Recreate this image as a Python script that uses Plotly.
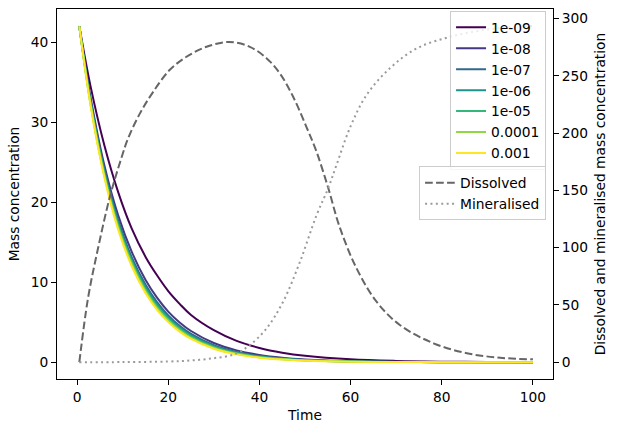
import plotly.graph_objects as go

# ---- data ----
time_mass = [0.5, 3, 6, 9, 12, 15, 17.5, 20, 22.5, 25, 30, 35, 40, 45, 50, 60, 70, 80, 90, 100]
series_names = ["1e-09", "1e-08", "1e-07", "1e-06", "1e-05", "0.0001", "0.001"]
mass_1e09 = [42, 34.4, 27.1, 21.3, 16.7, 13.2, 10.9, 8.9, 7.3, 5.9, 4.0, 2.66, 1.78, 1.19, 0.80, 0.36, 0.16, 0.07, 0.03, 0.01]
mass_1e08 = [42, 33.0, 24.6, 18.4, 13.8, 10.3, 8.1, 6.33, 4.97, 3.90, 2.40, 1.48, 0.91, 0.56, 0.35, 0.13, 0.05, 0.02, 0.01, 0.0]
mass_1e07 = [42, 32.6, 24.1, 17.8, 13.1, 9.71, 7.54, 5.86, 4.55, 3.54, 2.13, 1.29, 0.78, 0.47, 0.28, 0.10, 0.04, 0.01, 0.0, 0.0]
mass_1e06 = [42, 32.5, 23.8, 17.5, 12.8, 9.43, 7.29, 5.64, 4.36, 3.37, 2.01, 1.20, 0.72, 0.43, 0.26, 0.09, 0.03, 0.01, 0.0, 0.0]
mass_1e05 = [42, 32.3, 23.6, 17.2, 12.6, 9.16, 7.04, 5.42, 4.17, 3.21, 1.90, 1.12, 0.66, 0.39, 0.23, 0.08, 0.03, 0.01, 0.0, 0.0]
mass_1e04 = [42, 32.1, 23.3, 16.9, 12.3, 8.90, 6.81, 5.21, 3.99, 3.05, 1.79, 1.05, 0.61, 0.36, 0.21, 0.07, 0.02, 0.01, 0.0, 0.0]
mass_1e03 = [42, 32.0, 23.1, 16.6, 12.0, 8.65, 6.59, 5.01, 3.82, 2.91, 1.69, 0.98, 0.57, 0.33, 0.19, 0.06, 0.02, 0.01, 0.0, 0.0]
mass_series = [mass_1e09, mass_1e08, mass_1e07, mass_1e06, mass_1e05, mass_1e04, mass_1e03]

time_dissolved = [0.5, 2.4, 4.6, 7.2, 9.7, 11.2, 13.8, 16.7, 20.3, 24.0, 28.4, 33.3, 37.9, 41.6,
                  44.5, 47.4, 50.3, 52.5, 55.1, 57.6, 61.3, 65.7, 70.8, 78.2, 85.5, 92.8, 100]
dissolved = [0, 55.8, 99.4, 144.4, 177.9, 195.4, 217.2, 236, 255, 266.6, 275.3, 279.5, 275.3, 265.2,
             252, 231.7, 205.5, 184, 152, 118, 82, 52.8, 32.5, 16.5, 7.8, 3.9, 2.5]

time_mineral = [0.5, 10, 20, 25, 30, 34.6, 37.9, 41.6, 45.2, 48.9, 52.5, 55.1, 56.9, 59.9,
                63.5, 68.6, 74.5, 81.8, 89.1, 93.5, 100]
mineralised = [0, 0.1, 0.6, 1.5, 3.5, 7, 15, 29.6, 52.8, 87.7, 128, 152, 172, 205,
               233.2, 256.5, 273.9, 284, 289.9, 291.9, 293.5]

x_ticks = [0, 20, 40, 60, 80, 100]
y_ticks = [0, 10, 20, 30, 40]
y2_ticks = [0, 50, 100, 150, 200, 250, 300]

colors = ["#440154", "#443983", "#31688e", "#21918c", "#35b779", "#90d743", "#fde725"]

FONT = "DejaVu Sans"
FS = 13.8

fig = go.Figure()
for name, vals, col in zip(series_names, mass_series, colors):
    fig.add_trace(go.Scatter(x=time_mass, y=vals, mode="lines", name=name,
                             line=dict(color=col, width=2, shape="spline", smoothing=1.0),
                             legend="legend"))

fig.add_trace(go.Scatter(x=time_dissolved, y=dissolved, mode="lines", name="Dissolved",
                         yaxis="y2", legend="legend2",
                         line=dict(color="#666666", width=2, dash="7.7px,3.3px",
                                   shape="spline", smoothing=1.0)))
fig.add_trace(go.Scatter(x=time_mineral, y=mineralised, mode="lines", name="Mineralised",
                         yaxis="y2", legend="legend2",
                         line=dict(color="#9a9a9a", width=2, dash="2px,3.4px",
                                   shape="spline", smoothing=1.0)))

axis_common = dict(showline=True, linecolor="black", linewidth=1, ticks="outside",
                   ticklen=5, tickwidth=1, tickcolor="black", showgrid=False, zeroline=False,
                   tickfont=dict(family=FONT, size=FS, color="black"))

fig.update_layout(
    width=618, height=432,
    margin=dict(l=57, r=65, t=9, b=53),
    plot_bgcolor="white", paper_bgcolor="white",
    font=dict(family=FONT, size=FS, color="black"),
    xaxis=dict(range=[-4.4, 104.4], tickvals=x_ticks, mirror=True,
               title=dict(text="Time", font=dict(family=FONT, size=FS), standoff=6),
               **axis_common),
    yaxis=dict(range=[-2.1, 44.17], tickvals=y_ticks, mirror=True,
               title=dict(text="Mass concentration", font=dict(family=FONT, size=FS), standoff=7),
               **axis_common),
    yaxis2=dict(range=[-14.66, 308.3], tickvals=y2_ticks, overlaying="y", side="right",
                title=dict(text="Dissolved and mineralised mass concentration",
                           font=dict(family=FONT, size=FS), standoff=8),
                **axis_common),
    legend=dict(x=0.986, y=0.995, xanchor="right", yanchor="top",
                bgcolor="rgba(255,255,255,0.8)", bordercolor="#cccccc", borderwidth=1,
                font=dict(family=FONT, size=FS)),
    legend2=dict(x=0.986, y=0.575, xanchor="right", yanchor="top",
                 bgcolor="rgba(255,255,255,0.8)", bordercolor="#cccccc", borderwidth=1,
                 font=dict(family=FONT, size=FS)),
)

fig.write_html("out.html")
